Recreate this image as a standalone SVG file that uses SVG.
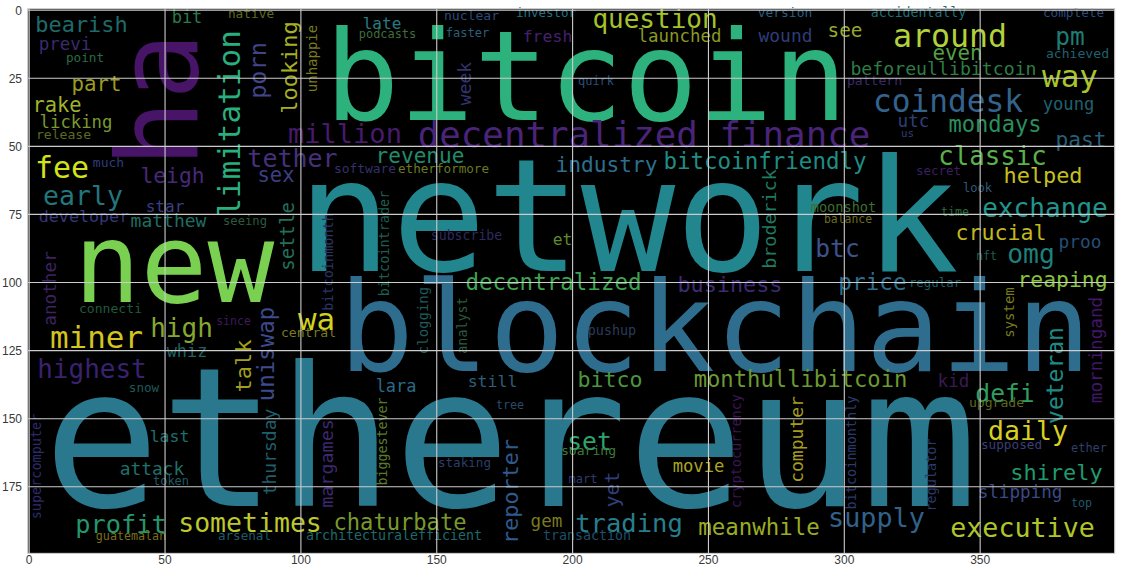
<svg xmlns="http://www.w3.org/2000/svg" width="1121" height="572" viewBox="0 0 1121 572">
<style>
.w{font-family:"DejaVu Sans Mono","Liberation Mono",monospace;text-anchor:middle}
.g{stroke:#cccccc;stroke-width:1.1;fill:none}
.tx{font-family:"Liberation Sans",Arial,sans-serif;font-size:12px;fill:#3a3a3a;text-anchor:middle}
.ty{font-family:"Liberation Sans",Arial,sans-serif;font-size:12px;fill:#3a3a3a;text-anchor:end}
</style>
<rect x="0" y="0" width="1121" height="572" fill="#ffffff"/>
<rect x="27.8" y="8.8" width="1086.9" height="544.6" fill="#000000"/>
<g id="words">
<!-- big words -->
<text class="w" x="510.5" y="506" font-size="194" fill="#2a788e">ethereum</text>
<text class="w" x="628" y="271" font-size="157" fill="#21868d">network</text>
<text class="w" x="715" y="371" font-size="125" fill="#2f6d8e">blockchain</text>
<text class="w" x="586" y="120" font-size="124" fill="#2db27d">bitcoin</text>
<text class="w" x="174" y="302" font-size="111" fill="#7ad151">new</text>
<text class="w" transform="translate(197 100) rotate(-90)" font-size="112" fill="#471467">ha</text>
<text class="w" x="644" y="146.5" font-size="35.8" fill="#4a2479">decentralized finance</text>
<!-- horizontal words -->
<text class="w" x="81.5" y="31.5" font-size="21.9" fill="#1f6b6b">bearish</text>
<text class="w" x="65" y="50" font-size="17.5" fill="#3b2a6e">previ</text>
<text class="w" x="85" y="62" font-size="12.7" fill="#2a6b46">point</text>
<text class="w" x="187" y="23.3" font-size="17" fill="#2a7a4a">bit</text>
<text class="w" x="251" y="18" font-size="12.8" fill="#5d6b1e">native</text>
<text class="w" x="96.5" y="90.5" font-size="20.8" fill="#9b9b1f">part</text>
<text class="w" x="57" y="112" font-size="20.4" fill="#a0b42a">rake</text>
<text class="w" x="76" y="128" font-size="17.3" fill="#7a9a2e">licking</text>
<text class="w" x="63.5" y="139" font-size="13.1" fill="#5d6b1e">release</text>
<text class="w" x="62" y="178" font-size="29.9" fill="#d2e21b">fee</text>
<text class="w" x="108.5" y="167" font-size="13" fill="#2f3c7a">much</text>
<text class="w" x="172.5" y="183" font-size="21.3" fill="#482878">leigh</text>
<text class="w" x="345" y="143" font-size="27" fill="#481a6c">million</text>
<text class="w" x="292.5" y="167" font-size="25" fill="#45307a">tether</text>
<text class="w" x="276" y="182" font-size="20.5" fill="#3d3f83">sex</text>
<text class="w" x="83" y="205" font-size="26.5" fill="#22777d">early</text>
<text class="w" x="382" y="29" font-size="16" fill="#2a7b7f">late</text>
<text class="w" x="387.5" y="38" font-size="11.9" fill="#3f6e3a">podcasts</text>
<text class="w" x="471.5" y="20" font-size="13.1" fill="#2d4a7a">nuclear</text>
<text class="w" x="546" y="17" font-size="12.5" fill="#2a6f80">investor</text>
<text class="w" x="467.5" y="37" font-size="12" fill="#2c5f78">faster</text>
<text class="w" x="547.5" y="42" font-size="16.5" fill="#46206e">fresh</text>
<text class="w" x="655" y="28" font-size="26" fill="#a5c22a">question</text>
<text class="w" x="679.5" y="42" font-size="17.4" fill="#8a9a24">launched</text>
<text class="w" x="596" y="85" font-size="12" fill="#2b4d7a">quirk</text>
<text class="w" x="420" y="163" font-size="21.1" fill="#228b6b">revenue</text>
<text class="w" x="365" y="173" font-size="12.9" fill="#35306a">software</text>
<text class="w" x="443.5" y="173" font-size="12.6" fill="#6b7a20">etherformore</text>
<text class="w" x="606.5" y="172" font-size="21.2" fill="#2e6f8e">industry</text>
<text class="w" x="765" y="169" font-size="22.5" fill="#1f8e84">bitcoinfriendly</text>
<text class="w" x="785" y="17" font-size="12.9" fill="#2a5f80">version</text>
<text class="w" x="918.5" y="17" font-size="13.2" fill="#1f6f73">accidentally</text>
<text class="w" x="1073.5" y="17" font-size="12.7" fill="#2d4b7a">complete</text>
<text class="w" x="785.5" y="42" font-size="17.9" fill="#2f3d79">wound</text>
<text class="w" x="845" y="37" font-size="19.3" fill="#98a82a">see</text>
<text class="w" x="957.5" y="60" font-size="20.8" fill="#54a046">even</text>
<text class="w" x="950" y="47" font-size="31.6" fill="#b2d23a">around</text>
<text class="w" x="943.5" y="75" font-size="18.2" fill="#2e7d46">beforeullibitcoin</text>
<text class="w" x="874.5" y="85" font-size="13.1" fill="#3a2a6a">pattern</text>
<text class="w" x="1070" y="45" font-size="24.5" fill="#1e7d74">pm</text>
<text class="w" x="1077.5" y="58" font-size="13.1" fill="#21616e">achieved</text>
<text class="w" x="1070" y="87" font-size="31" fill="#a9c52b">way</text>
<text class="w" x="948" y="112" font-size="31.2" fill="#33638d">coindesk</text>
<text class="w" x="1068.5" y="110" font-size="17.2" fill="#1f6070">young</text>
<text class="w" x="913.5" y="127" font-size="17.6" fill="#2f3f78">utc</text>
<text class="w" x="907.5" y="137" font-size="10.9" fill="#2f3f78">us</text>
<text class="w" x="995" y="132" font-size="22.1" fill="#2a8f5e">mondays</text>
<text class="w" x="1081" y="147" font-size="21.2" fill="#275f79">past</text>
<text class="w" x="992.5" y="165" font-size="25.8" fill="#5ab14c">classic</text>
<text class="w" x="1043" y="183" font-size="21.9" fill="#c5c01e">helped</text>
<text class="w" x="938.5" y="175" font-size="12.5" fill="#3a1f5e">secret</text>
<text class="w" x="977.5" y="192" font-size="12.1" fill="#2f5a78">look</text>
<text class="w" x="165" y="212" font-size="16" fill="#3b3f80">star</text>
<text class="w" x="84" y="222" font-size="16.7" fill="#35387a">developer</text>
<text class="w" x="168.5" y="227" font-size="18" fill="#1f6e63">matthew</text>
<text class="w" x="245" y="225" font-size="12.2" fill="#2c5a3c">seeing</text>
<text class="w" x="110.5" y="313" font-size="13.1" fill="#1f5a3e">connecti</text>
<text class="w" x="181.5" y="337" font-size="26" fill="#86a82f">high</text>
<text class="w" x="96.5" y="348" font-size="30.9" fill="#d4c41f">miner</text>
<text class="w" x="92" y="378" font-size="26" fill="#3b2270">highest</text>
<text class="w" x="187" y="357" font-size="16.9" fill="#1f6060">whiz</text>
<text class="w" x="233.5" y="325" font-size="11.5" fill="#3d1a5a">since</text>
<text class="w" x="308.5" y="337" font-size="13.1" fill="#7a7a20">central</text>
<text class="w" x="316.5" y="330" font-size="30.8" fill="#d2d21e">wa</text>
<text class="w" x="466.5" y="240" font-size="13.2" fill="#2e2a60">subscribe</text>
<text class="w" x="562.5" y="245" font-size="16.3" fill="#5e8a2a">et</text>
<text class="w" x="553.5" y="290" font-size="22.5" fill="#3ea350">decentralized</text>
<text class="w" x="730" y="292" font-size="21.8" fill="#3e2b74">business</text>
<text class="w" x="612" y="335" font-size="13.4" fill="#2b3a5a">pushup</text>
<text class="w" x="1045" y="217" font-size="26.1" fill="#1f958b">exchange</text>
<text class="w" x="955" y="216" font-size="11.7" fill="#2a6a3c">time</text>
<text class="w" x="843.5" y="212" font-size="13.6" fill="#3f6e2e">moonshot</text>
<text class="w" x="848" y="223" font-size="11.4" fill="#6b6e1e">balance</text>
<text class="w" x="1001" y="240" font-size="21.6" fill="#c0b81e">crucial</text>
<text class="w" x="1080" y="248" font-size="17.8" fill="#264d78">proo</text>
<text class="w" x="837.5" y="257" font-size="24.6" fill="#3b528b">btc</text>
<text class="w" x="986.5" y="260" font-size="11.7" fill="#1f5a50">nft</text>
<text class="w" x="1031" y="263" font-size="26.4" fill="#1f7f7a">omg</text>
<text class="w" x="872.5" y="290" font-size="22.7" fill="#2c6e8a">price</text>
<text class="w" x="935" y="287" font-size="12.4" fill="#1f5c64">regular</text>
<text class="w" x="1062.5" y="287" font-size="21.4" fill="#86c23c">reaping</text>
<text class="w" x="144" y="392" font-size="12.6" fill="#1f5a5a">snow</text>
<text class="w" x="169.5" y="442" font-size="16.5" fill="#1f6e6e">last</text>
<text class="w" x="152" y="475" font-size="17.9" fill="#1f716a">attack</text>
<text class="w" x="171" y="485" font-size="12" fill="#1f5a62">token</text>
<text class="w" x="121" y="533" font-size="25.3" fill="#24976c">profit</text>
<text class="w" x="131" y="540" font-size="11.7" fill="#7a6e1a">guatemalan</text>
<text class="w" x="250" y="532" font-size="26.5" fill="#bdc92a">sometimes</text>
<text class="w" x="244.5" y="540" font-size="12.6" fill="#1f5a6a">arsenal</text>
<text class="w" x="394" y="540" font-size="13.3" fill="#1f6a6a">architecturalefficient</text>
<text class="w" x="400" y="530" font-size="22.1" fill="#7a992a">chaturbate</text>
<text class="w" x="396" y="392" font-size="16.9" fill="#2a6a8a">lara</text>
<text class="w" x="492.5" y="387" font-size="16.5" fill="#2b5f78">still</text>
<text class="w" x="510" y="409" font-size="11.7" fill="#2a4a6a">tree</text>
<text class="w" x="610" y="387" font-size="21.6" fill="#4a963e">bitco</text>
<text class="w" x="800.5" y="387" font-size="22.2" fill="#6b9a30">monthullibitcoin</text>
<text class="w" x="953.5" y="387" font-size="17.6" fill="#3b1a52">kid</text>
<text class="w" x="464.5" y="467" font-size="12.6" fill="#2a3f6a">staking</text>
<text class="w" x="589.5" y="450" font-size="24.6" fill="#2ca46c">set</text>
<text class="w" x="588.5" y="455" font-size="13.1" fill="#3f7a3a">soaring</text>
<text class="w" x="583" y="483" font-size="12" fill="#2f3a6e">mart</text>
<text class="w" x="698.5" y="472" font-size="17.2" fill="#aaa520">movie</text>
<text class="w" x="629" y="532" font-size="25.5" fill="#277f8e">trading</text>
<text class="w" x="546.5" y="527" font-size="17.6" fill="#7a7a1e">gem</text>
<text class="w" x="587" y="540" font-size="13.3" fill="#1f4f6a">transaction</text>
<text class="w" x="759" y="535" font-size="22.4" fill="#9aad22">meanwhile</text>
<text class="w" x="1005" y="402" font-size="24.7" fill="#2f9e5f">defi</text>
<text class="w" x="996.5" y="407" font-size="13.1" fill="#5a6a1e">upgrade</text>
<text class="w" x="1028" y="440" font-size="26.5" fill="#d8d020">daily</text>
<text class="w" x="1011.5" y="449" font-size="12.7" fill="#3a3f7a">supposed</text>
<text class="w" x="1089" y="452" font-size="12" fill="#2f3f6a">ether</text>
<text class="w" x="1056.5" y="480" font-size="21.9" fill="#1f9a6e">shirely</text>
<text class="w" x="1020" y="498" font-size="17.6" fill="#3a4a85">slipping</text>
<text class="w" x="1081.5" y="507" font-size="11.7" fill="#1f5a6a">top</text>
<text class="w" x="876.5" y="527" font-size="26.8" fill="#30628a">supply</text>
<text class="w" x="1022.5" y="537" font-size="26.7" fill="#b0c52a">executive</text>
<!-- vertical words -->
<text class="w" transform="translate(240 123.5) rotate(-90)" font-size="31" fill="#29af7f">limitation</text>
<text class="w" transform="translate(266 70.5) rotate(-90)" font-size="23.5" fill="#414487">porn</text>
<text class="w" transform="translate(297 67.5) rotate(-90)" font-size="22" fill="#a8b020">looking</text>
<text class="w" transform="translate(317 58.5) rotate(-90)" font-size="14" fill="#7a7a1e">unhappie</text>
<text class="w" transform="translate(471 83.5) rotate(-90)" font-size="18" fill="#33336e">week</text>
<text class="w" transform="translate(776 219) rotate(-90)" font-size="18.4" fill="#1f7a60">broderick</text>
<text class="w" transform="translate(294 236.5) rotate(-90)" font-size="19" fill="#23705a">settle</text>
<text class="w" transform="translate(333 262) rotate(-90)" font-size="13.5" fill="#2a3566">bitcoinmonth</text>
<text class="w" transform="translate(389 243.5) rotate(-90)" font-size="13.5" fill="#1e5e50">bitcointrader</text>
<text class="w" transform="translate(55.5 288.5) rotate(-90)" font-size="17.7" fill="#3e2360">another</text>
<text class="w" transform="translate(251 366) rotate(-90)" font-size="22" fill="#a0a01e">talk</text>
<text class="w" transform="translate(274 354) rotate(-90)" font-size="22.4" fill="#3d4b8a">uniswap</text>
<text class="w" transform="translate(276 452) rotate(-90)" font-size="18" fill="#1f5f6a">thursday</text>
<text class="w" transform="translate(333 463.5) rotate(-90)" font-size="18.4" fill="#3e2870">margames</text>
<text class="w" transform="translate(428 320.5) rotate(-90)" font-size="14" fill="#1f5a5a">clogging</text>
<text class="w" transform="translate(467 325.5) rotate(-90)" font-size="13.4" fill="#2a5a3a">analyst</text>
<text class="w" transform="translate(41 466.5) rotate(-90)" font-size="13.5" fill="#2d2a6a">supercomputer</text>
<text class="w" transform="translate(387 441.5) rotate(-90)" font-size="13.3" fill="#5a7a2a">biggestever</text>
<text class="w" transform="translate(518 491.5) rotate(-90)" font-size="21.8" fill="#2f5a8c">reporter</text>
<text class="w" transform="translate(619 489.5) rotate(-90)" font-size="20" fill="#2f3f7a">yet</text>
<text class="w" transform="translate(803 439.5) rotate(-90)" font-size="18" fill="#a89c1e">computer</text>
<text class="w" transform="translate(741 451) rotate(-90)" font-size="13.5" fill="#3b1556">cryptocurrency</text>
<text class="w" transform="translate(856 452.5) rotate(-90)" font-size="13.5" fill="#2a3a6a">bitcoinmonthly</text>
<text class="w" transform="translate(936 475) rotate(-90)" font-size="13.5" fill="#2a3a6a">regulator</text>
<text class="w" transform="translate(1014 312.5) rotate(-90)" font-size="14" fill="#7a7a1e">system</text>
<text class="w" transform="translate(1063 375.5) rotate(-90)" font-size="23" fill="#1f8a84">veteran</text>
<text class="w" transform="translate(1101.5 350) rotate(-90)" font-size="17.7" fill="#44166a">morningand</text>
</g>
<g id="grid">
<path class="g" d="M165.05 8.8V553.4M300.9 8.8V553.4M436.75 8.8V553.4M572.6 8.8V553.4M708.45 8.8V553.4M844.3 8.8V553.4M980.15 8.8V553.4"/>
<path class="g" d="M27.8 78.3H1114.7M27.8 146.4H1114.7M27.8 214.4H1114.7M27.8 282.5H1114.7M27.8 350.6H1114.7M27.8 418.7H1114.7M27.8 486.8H1114.7"/>
<rect class="g" x="27.8" y="8.8" width="1086.9" height="544.6"/>
<path class="g" d="M29.2 8.8V553.4M27.8 10.2H1114.7"/>
</g>
<g id="ticks">
<text class="tx" x="29.2" y="564">0</text>
<text class="tx" x="165.05" y="564">50</text>
<text class="tx" x="300.9" y="564">100</text>
<text class="tx" x="436.75" y="564">150</text>
<text class="tx" x="572.6" y="564">200</text>
<text class="tx" x="708.45" y="564">250</text>
<text class="tx" x="844.3" y="564">300</text>
<text class="tx" x="980.15" y="564">350</text>
<text class="ty" x="22" y="14.5">0</text>
<text class="ty" x="22" y="82.6">25</text>
<text class="ty" x="22" y="150.7">50</text>
<text class="ty" x="22" y="218.7">75</text>
<text class="ty" x="22" y="286.8">100</text>
<text class="ty" x="22" y="354.9">125</text>
<text class="ty" x="22" y="423">150</text>
<text class="ty" x="22" y="491.1">175</text>
</g>
</svg>
